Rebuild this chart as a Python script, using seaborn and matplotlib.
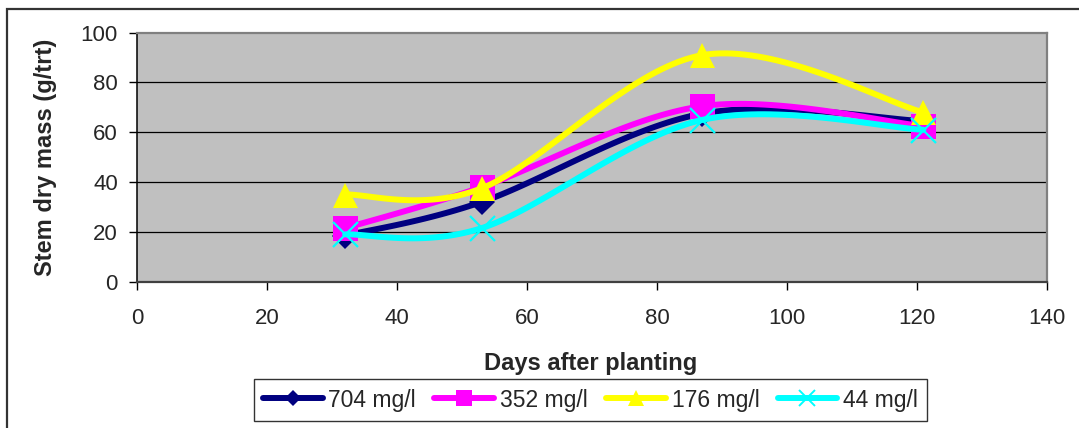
import numpy as np
import pandas as pd
import matplotlib
matplotlib.use("Agg")
import matplotlib.pyplot as plt
from matplotlib.lines import Line2D
from matplotlib.patches import Rectangle
import seaborn as sns

# Stem dry mass per treatment, sampled at four dates after planting
days = [32, 53, 87, 121]
mass_704 = [18.5, 32, 67.5, 64.5]
mass_352 = [21.5, 38, 70.5, 62.5]
mass_176 = [35, 37.5, 91, 68]
mass_44 = [19, 21.5, 65, 61]

series_labels = ["704 mg/l", "352 mg/l", "176 mg/l", "44 mg/l"]
series_values = [mass_704, mass_352, mass_176, mass_44]
series_colors = ["#000080", "#FF00FF", "#FFFF00", "#00FFFF"]
series_markers = ["D", "s", "^", "x"]
series_msize = [13, 18, 18, 18]

x_ticks = [0, 20, 40, 60, 80, 100, 120, 140]
y_ticks = [0, 20, 40, 60, 80, 100]


def smooth_curve(xs, ys, n=40):
    """Cubic Bezier through the points, tangents from neighbouring points."""
    pts = np.column_stack([xs, ys]).astype(float)
    parts = []
    for i in range(len(pts) - 1):
        p0, p1 = pts[i], pts[i + 1]
        prev = pts[i - 1] if i > 0 else pts[i]
        nxt = pts[i + 2] if i + 2 < len(pts) else pts[i + 1]
        c1 = p0 + (p1 - prev) / 6.0
        c2 = p1 - (nxt - p0) / 6.0
        t = np.linspace(0, 1, n)[:, None]
        seg = (1 - t) ** 3 * p0 + 3 * (1 - t) ** 2 * t * c1 + 3 * (1 - t) * t ** 2 * c2 + t ** 3 * p1
        parts.append(seg if i == 0 else seg[1:])
    return np.vstack(parts)


sns.set_theme(style="white")
plt.rcParams["font.family"] = ["Liberation Sans", "DejaVu Sans"]

W, H = 1079, 428
fig = plt.figure(figsize=(W / 100, H / 100), dpi=100)
fig.patch.set_facecolor("white")

left, right, top, bottom = 137.3, 1046.7, 32.7, 281.7
ax = fig.add_axes([left / W, 1 - bottom / H, (right - left) / W, (bottom - top) / H])
ax.set_facecolor("#C0C0C0")

LW = 4.3
for i, (lab, vals, col, mk, ms) in enumerate(
        zip(series_labels, series_values, series_colors, series_markers, series_msize)):
    curve = smooth_curve(days, vals)
    df = pd.DataFrame({"x": curve[:, 0], "y": curve[:, 1]})
    sns.lineplot(data=df, x="x", y="y", sort=False, color=col, lw=LW,
                 ax=ax, zorder=3 + 2 * i, estimator=None)
    ax.plot(days, vals, linestyle="none", marker=mk, markersize=ms,
            color=col, markeredgecolor=col,
            markeredgewidth=1.6 if mk == "x" else 0, zorder=4 + 2 * i)

ax.set_xlim(0, 140)
ax.set_ylim(0, 100)
ax.set_xticks(x_ticks)
ax.set_yticks(y_ticks)
ax.set_xticklabels([str(v) for v in x_ticks], fontsize=16)
ax.set_yticklabels([str(v) for v in y_ticks], fontsize=16)

for v in y_ticks[1:-1]:
    ax.axhline(v, color="black", lw=0.9, zorder=1)

ax.tick_params(axis="y", direction="out", length=6, width=1, color="black",
               pad=8, left=True)
ax.tick_params(axis="x", direction="out", length=6, width=1, color="black",
               pad=13, bottom=True)

ax.spines["left"].set_color("black")
ax.spines["left"].set_linewidth(1.1)
ax.spines["bottom"].set_color("#404040")
ax.spines["bottom"].set_linewidth(1.6)
ax.spines["top"].set_color("#808080")
ax.spines["top"].set_linewidth(1.6)
ax.spines["right"].set_color("#808080")
ax.spines["right"].set_linewidth(1.6)

ax.set_xlabel("Days after planting", fontsize=17, fontweight="bold")
ax.set_ylabel("Stem dry mass (g/trt)", fontsize=17, fontweight="bold")
ax.xaxis.set_label_coords((591 - left) / (right - left), -(352 - bottom) / (bottom - top))
ax.yaxis.set_label_coords(-(left - 57) / (right - left), 0.5)

handles = [Line2D([0], [0], color=c, lw=LW, marker=m, markersize=s * 0.62,
                  markeredgecolor=c, markeredgewidth=1.4 if m == "x" else 0)
           for c, m, s in zip(series_colors, series_markers, series_msize)]
leg = fig.legend(handles, series_labels, loc="center",
                 bbox_to_anchor=(590.5 / W, 1 - 400 / H), ncol=4,
                 fontsize=16.5, frameon=True, fancybox=False, edgecolor="black",
                 handlelength=2.6, handletextpad=0.26, columnspacing=0.8,
                 borderpad=0.4, borderaxespad=0)
leg.get_frame().set_linewidth(1.0)

# outer chart border
fig.patches.append(Rectangle((7.3 / W, -0.1), 2.0, 1 - 9 / H + 0.1,
                             transform=fig.transFigure, fill=False,
                             edgecolor="#333333", lw=1.6))

fig.savefig("out.png", dpi=100)
